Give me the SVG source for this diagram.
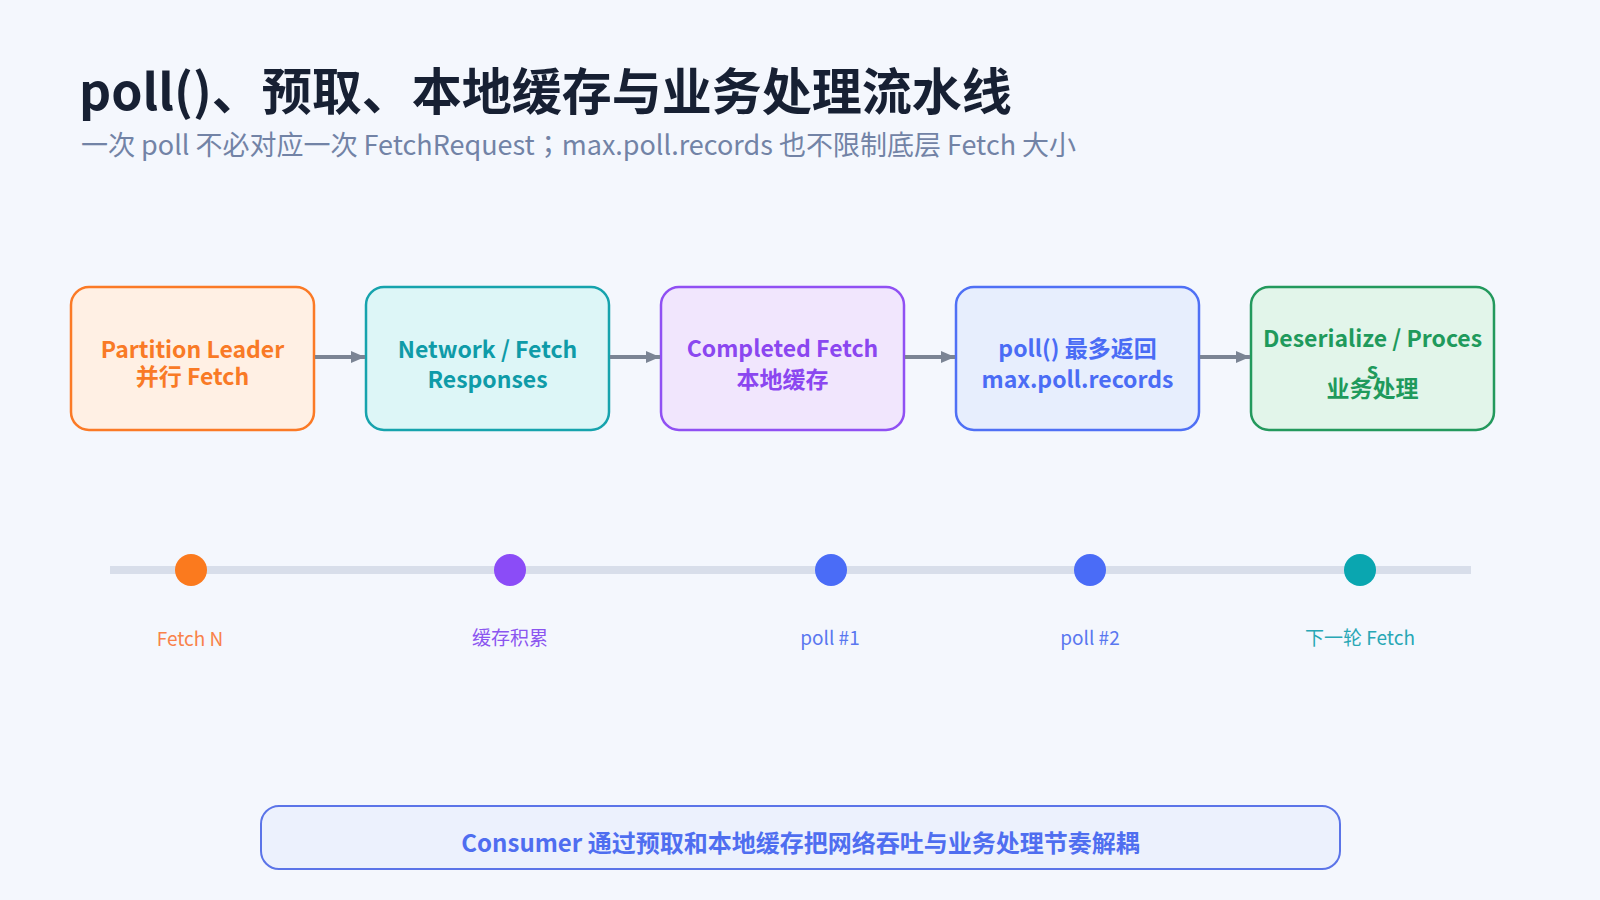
<svg xmlns="http://www.w3.org/2000/svg" width="1600" height="900" viewBox="0 0 1600 900">
<defs>
<marker id="arr" markerWidth="14" markerHeight="14" refX="14" refY="7" orient="auto" markerUnits="userSpaceOnUse">
<path d="M0,1 L14,7 L0,13 Z" fill="#7b8494"/>
</marker>
<style>
text{font-family:"Noto Sans CJK SC","Noto Sans",sans-serif}
.title{font-size:50px;font-weight:700;fill:#172033}
.sub{font-size:27px;fill:#7283a6;font-family:"Noto Sans CJK JP","Noto Sans",sans-serif}
.node{stroke-width:2.5}
.nt{font-size:23px;font-weight:700;text-anchor:middle}
.conn{stroke:#7b8494;stroke-width:4;fill:none}
.lab{font-size:19px;text-anchor:middle}
</style>
</defs>
<rect width="1600" height="900" fill="#f4f7fd"/>
<text class="title" x="79" y="110">poll()、预取、本地缓存与业务处理流水线</text>
<text class="sub" x="81" y="155">一次 poll 不必对应一次 FetchRequest；max.poll.records 也不限制底层 Fetch 大小</text>

<g id="n1"><rect class="node" x="71" y="287" width="243" height="143" rx="18" fill="#fff0e4" stroke="#fb7a26"/>
<text class="nt" fill="#f97a26"><tspan x="192.5" y="358">Partition Leader</tspan><tspan x="192.5" y="385">并行 Fetch</tspan></text></g>
<g id="n2"><rect class="node" x="366" y="287" width="243" height="143" rx="18" fill="#ddf6f7" stroke="#16a3ad"/>
<text class="nt" fill="#0f9ba8"><tspan x="487.5" y="358">Network / Fetch</tspan><tspan x="487.5" y="388">Responses</tspan></text></g>
<g id="n3"><rect class="node" x="661" y="287" width="243" height="143" rx="18" fill="#f1e6fd" stroke="#9050f3"/>
<text class="nt" fill="#8b47f0"><tspan x="782.5" y="357">Completed Fetch</tspan><tspan x="782.5" y="388">本地缓存</tspan></text></g>
<g id="n4"><rect class="node" x="956" y="287" width="243" height="143" rx="18" fill="#e7eefd" stroke="#4f70f5"/>
<text class="nt" fill="#4a6cf5"><tspan x="1077.5" y="357">poll() 最多返回</tspan><tspan x="1077.5" y="388">max.poll.records</tspan></text></g>
<g id="n5"><rect class="node" x="1251" y="287" width="243" height="143" rx="18" fill="#e2f5ea" stroke="#23995d"/>
<text class="nt" fill="#1f9a5c"><tspan x="1372.5" y="347">Deserialize / Proces</tspan><tspan x="1372.5" y="379">s</tspan><tspan x="1372.5" y="397">业务处理</tspan></text></g>

<g id="connectors">
<line class="conn" x1="315" y1="357" x2="365" y2="357" marker-end="url(#arr)"/>
<line class="conn" x1="610" y1="357" x2="660" y2="357" marker-end="url(#arr)"/>
<line class="conn" x1="905" y1="357" x2="955" y2="357" marker-end="url(#arr)"/>
<line class="conn" x1="1200" y1="357" x2="1250" y2="357" marker-end="url(#arr)"/>
</g>

<g id="timeline">
<line x1="110" y1="570" x2="1471" y2="570" stroke="#d8deea" stroke-width="8"/>
<circle cx="191" cy="570" r="16" fill="#fb7a1e"/>
<circle cx="510" cy="570" r="16" fill="#8b4cf7"/>
<circle cx="831" cy="570" r="16" fill="#4a6cf7"/>
<circle cx="1090" cy="570" r="16" fill="#4a6cf7"/>
<circle cx="1360" cy="570" r="16" fill="#0aa6b0"/>
<text class="lab" x="190" y="646" fill="#f9824a">Fetch N</text>
<text class="lab" x="510" y="645" fill="#8b55f0">缓存积累</text>
<text class="lab" x="830" y="645" fill="#5a78f0">poll #1</text>
<text class="lab" x="1090" y="645" fill="#5a78f0">poll #2</text>
<text class="lab" x="1360" y="645" fill="#28a7b5">下一轮 Fetch</text>
</g>

<g id="summary">
<rect x="261" y="806" width="1079" height="63" rx="18" fill="#ecf1fd" stroke="#5b74e8" stroke-width="2"/>
<text x="800.5" y="852" text-anchor="middle" font-size="24" font-weight="700" fill="#4f6ef0">Consumer 通过预取和本地缓存把网络吞吐与业务处理节奏解耦</text>
</g>
</svg>
